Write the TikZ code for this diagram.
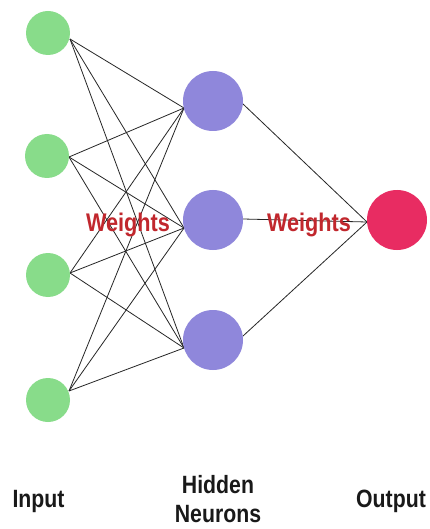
\documentclass[tikz,border=0pt]{standalone}
\usepackage{fontspec}
\setmainfont{Liberation Sans}[FakeStretch=0.85]
\begin{document}
\definecolor{ingreen}{HTML}{88DC8A}
\definecolor{hidpurple}{HTML}{8F87DB}
\definecolor{outred}{HTML}{E82C62}
\definecolor{wred}{HTML}{C1272D}
\begin{tikzpicture}[x=1pt,y=-1pt,
  inneuron/.style={circle,fill=ingreen,draw=none,minimum size=44pt,inner sep=0pt},
  hidneuron/.style={circle,fill=hidpurple,draw=none,minimum size=60pt,inner sep=0pt},
  outneuron/.style={circle,fill=outred,draw=none,minimum size=60pt,inner sep=0pt},
  synapse/.style={draw=black!85,line width=0.8pt},
  weightlabel/.style={anchor=base,text=wred,font=\bfseries\fontsize{25.5}{30}\selectfont,inner sep=0pt},
  layerlabel/.style={anchor=base,text=black!90,font=\bfseries\fontsize{25}{32}\selectfont,inner sep=0pt}]
\useasboundingbox (0,0) rectangle (430,529);
\fill[white] (0,0) rectangle (430,529);

% connections input -> hidden
\coordinate (a1) at (70,39);
\coordinate (a2) at (69,157);
\coordinate (a3) at (70,273);
\coordinate (a4) at (69,391);
\coordinate (b1) at (184,108);
\coordinate (b2) at (184,228);
\coordinate (b3) at (184,348);
\foreach \i in {1,...,4}{
  \foreach \j in {1,2,3}{
    \draw[synapse] (a\i) -- (b\j);
  }
}
% connections hidden -> output
\coordinate (c1) at (243,104);
\coordinate (c2) at (243,219);
\coordinate (c3) at (243,336);
\coordinate (d) at (367,222);
\foreach \j in {1,2,3}{ \draw[synapse] (c\j) -- (d); }

% neurons
\node[inneuron] (in1) at (48,33) {};
\node[inneuron] (in2) at (47,156) {};
\node[inneuron] (in3) at (48,275) {};
\node[inneuron] (in4) at (48,400) {};
\node[hidneuron] (h1) at (213,101) {};
\node[hidneuron] (h2) at (213,220) {};
\node[hidneuron] (h3) at (213,340) {};
\node[outneuron] (out) at (397,220) {};

% weight labels
\node[weightlabel] (w1) at (128,231) {Weights};
\node[weightlabel] (w2) at (309,231) {Weights};

% layer labels
\node[layerlabel] (linput) at (38.5,507) {Input};
\node[layerlabel] (lhidden) at (218,493) {Hidden};
\node[layerlabel] (lneurons) at (218,522) {Neurons};
\node[layerlabel] (loutput) at (391,507) {Output};
\end{tikzpicture}
\end{document}
